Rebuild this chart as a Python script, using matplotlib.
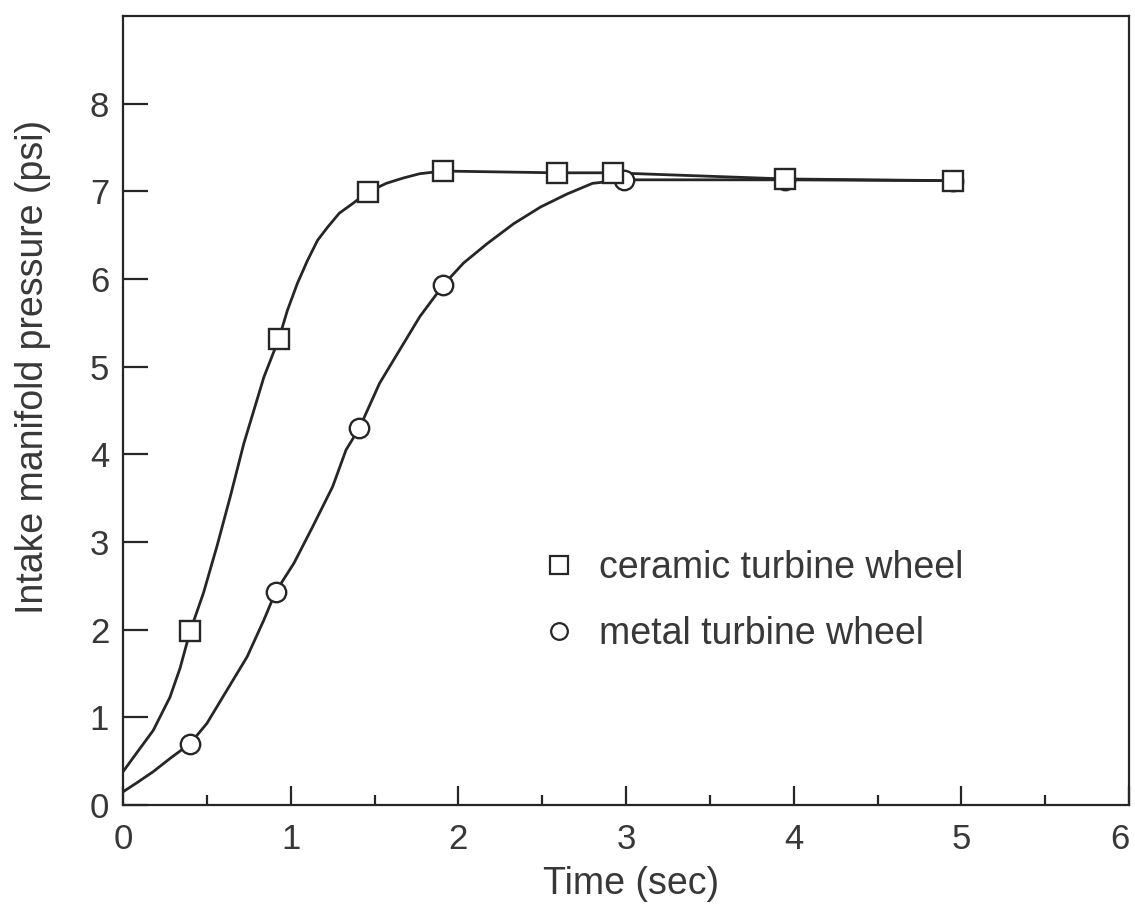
import matplotlib
matplotlib.use("Agg")
import matplotlib.pyplot as plt
from matplotlib.lines import Line2D
from matplotlib.ticker import MultipleLocator

plt.rcParams["font.family"] = ["Liberation Sans", "DejaVu Sans"]

INK = "#262626"
TEXT = "#383838"

# measured points (time in s, pressure in psi)
ceramic_t = [0.40, 0.93, 1.46, 1.91, 2.59, 2.92, 3.95, 4.95]
ceramic_p = [1.98, 5.32, 6.99, 7.23, 7.21, 7.21, 7.14, 7.12]
metal_t = [0.40, 0.91, 1.41, 1.91, 2.99, 3.95, 4.95]
metal_p = [0.70, 2.43, 4.30, 5.93, 7.13, 7.13, 7.12]

# fitted response curves, traced as point lists
ceramic_fit_t = [0.0, 0.08, 0.18, 0.28, 0.34, 0.40, 0.48, 0.56, 0.64, 0.72, 0.78,
                 0.84, 0.93, 0.98, 1.04, 1.10, 1.16, 1.22, 1.29, 1.37, 1.46,
                 1.57, 1.67, 1.77, 1.91, 2.59, 2.92, 3.95, 4.95]
ceramic_fit_p = [0.38, 0.59, 0.85, 1.23, 1.56, 1.98, 2.42, 2.95, 3.52, 4.12, 4.50,
                 4.88, 5.32, 5.64, 5.95, 6.21, 6.44, 6.59, 6.75, 6.86, 6.99,
                 7.09, 7.15, 7.20, 7.23, 7.21, 7.21, 7.14, 7.12]
metal_fit_t = [0.0, 0.08, 0.18, 0.28, 0.40, 0.50, 0.62, 0.74, 0.84, 0.91,
               1.02, 1.13, 1.25, 1.33, 1.41, 1.53, 1.65, 1.77, 1.91, 2.03,
               2.17, 2.33, 2.49, 2.65, 2.80, 2.99, 3.95, 4.95]
metal_fit_p = [0.15, 0.25, 0.38, 0.53, 0.70, 0.93, 1.31, 1.69, 2.11, 2.43,
               2.76, 3.17, 3.63, 4.05, 4.30, 4.81, 5.19, 5.57, 5.93, 6.18,
               6.40, 6.63, 6.82, 6.97, 7.09, 7.13, 7.13, 7.12]

x_ticks = [0, 1, 2, 3, 4, 5, 6]
y_ticks = [0, 1, 2, 3, 4, 5, 6, 7, 8]

fig = plt.figure(figsize=(11.35, 9.07), dpi=100)
ax = fig.add_axes([0.1084, 0.1125, 0.8864, 0.870])

ax.plot(ceramic_fit_t, ceramic_fit_p, color=INK, lw=2.0, zorder=2,
        solid_joinstyle="round")
ax.plot(metal_fit_t, metal_fit_p, color=INK, lw=2.0, zorder=2,
        solid_joinstyle="round")
ax.plot(metal_t, metal_p, ls="none", marker="o", ms=14, mew=1.7,
        mfc="white", mec=INK, zorder=3)
ax.plot(ceramic_t, ceramic_p, ls="none", marker="s", ms=15, mew=1.7,
        mfc="white", mec=INK, zorder=4)

ax.set_xlim(0, 6)
ax.set_ylim(0, 9)
ax.set_xticks(x_ticks)
ax.xaxis.set_minor_locator(MultipleLocator(0.5))
ax.set_yticks(y_ticks)

ax.tick_params(axis="both", which="both", direction="in", colors=INK,
               labelcolor=TEXT, width=1.6, top=False, right=False)
ax.tick_params(axis="x", which="major", length=14, pad=13, labelsize=25)
ax.tick_params(axis="x", which="minor", length=7)
ax.tick_params(axis="y", which="major", length=18, pad=10, labelsize=25)
for side in ax.spines.values():
    side.set_linewidth(1.6)
    side.set_color(INK)

# last x label sits at the figure edge, keep it inside
ax.get_xticklabels()[-1].set_horizontalalignment("right")

ax.set_xlabel("Time (sec)", fontsize=27, color=TEXT)
ax.set_ylabel("Intake manifold pressure (psi)", fontsize=27, color=TEXT)
ax.xaxis.set_label_coords(0.505, -0.077)
ax.yaxis.set_label_coords(-0.072, 0.555)

handles = [
    Line2D([], [], ls="none", marker="s", ms=13, mew=1.6, mfc="white", mec=INK),
    Line2D([], [], ls="none", marker="o", ms=12, mew=1.6, mfc="white", mec=INK),
]
ax.legend(handles, ["ceramic turbine wheel", "metal turbine wheel"],
          loc="upper left", bbox_to_anchor=(0.415, 0.3235), frameon=False,
          fontsize=27, labelcolor=TEXT, borderpad=0, borderaxespad=0,
          handlelength=1.0, handletextpad=0.57, labelspacing=0.8)

fig.savefig("out.png", dpi=100)
